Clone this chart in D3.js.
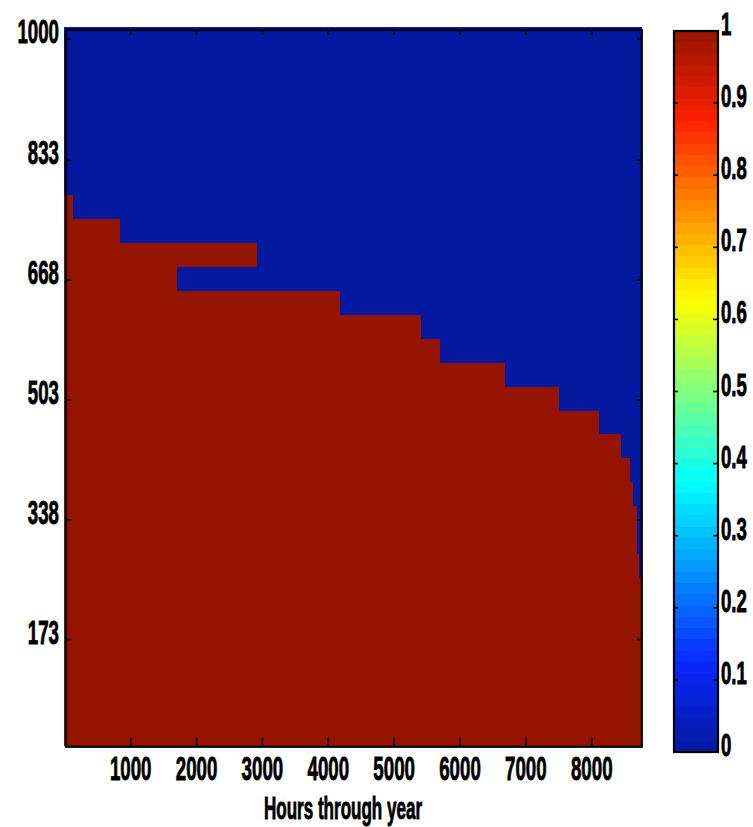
<!DOCTYPE html>
<html>
<head>
<meta charset="utf-8">
<script src="https://cdn.jsdelivr.net/npm/d3@7"></script>
<style>
  body { margin: 0; background: #fff; }
  text { font-family: "Liberation Sans", Arial, Helvetica, sans-serif; font-weight: bold; fill: #000; stroke: #000; stroke-width: 0.9px; }
</style>
</head>
<body>
<svg id="chart" width="753" height="827"></svg>
<script>
// Demand levels (row centres of the map)
const levels = [1000, 967, 934, 901, 868, 835, 802, 769, 736, 703, 670, 637, 604, 571, 538,
                505, 472, 439, 406, 373, 340, 307, 274, 241, 208, 175, 142, 109, 76, 43];

// Hour-of-year edges of the column bands
const hourEdges = [0, 130, 840, 1700, 2920, 4180, 5410, 5700, 6690, 7500, 8115, 8445, 8585, 8630, 8680, 8710, 8760];

// Highest level that is met (value 1) in each band; levels above it are 0
const topMet = [769, 736, 703, 703, 637, 604, 571, 538, 505, 472, 439, 406, 373, 340, 274, 241];

// Isolated unmet cells below the top level: band index and level
const gapBand = [3];
const gapLevel = [670];

// Axis ticks
const xTicks = [1000, 2000, 3000, 4000, 5000, 6000, 7000, 8000];
const yTicks = [173, 338, 503, 668, 833, 1000];
const cbTicks = [0, 0.1, 0.2, 0.3, 0.4, 0.5, 0.6, 0.7, 0.8, 0.9, 1];
const cbTickLabels = ["0", "0.1", "0.2", "0.3", "0.4", "0.5", "0.6", "0.7", "0.8", "0.9", "1"];
const xTitle = "Hours through year";

(function draw() {
  const svg = d3.select("#chart");

  const x = d3.scaleLinear().domain([0, 8760]).range([64.8, 641.8]);
  const y = d3.scaleLinear().domain([26.5, 1012.5]).range([746, 30]);
  const cb = d3.scaleLinear().domain([0, 1]).range([752, 31]);

  // Jet-like colour map
  const jet = d3.scaleLinear()
    .domain([0, 0.125, 0.375, 0.625, 0.875, 1])
    .range(["#0418a0", "#0a28ff", "#00ffff", "#ffff00", "#ff2000", "#941400"])
    .interpolate(d3.interpolateRgb)
    .clamp(true);

  // Build the cell table
  const half = (levels[0] - levels[1]) / 2;
  const cells = [];
  for (let b = 0; b < topMet.length; b++) {
    levels.forEach(L => {
      let v = L <= topMet[b] ? 1 : 0;
      gapBand.forEach((gb, i) => { if (gb === b && gapLevel[i] === L) v = 0; });
      cells.push({ x0: hourEdges[b], x1: hourEdges[b + 1], level: L, value: v });
    });
  }

  const map = svg.append("g").attr("shape-rendering", "crispEdges");
  map.selectAll("rect")
    .data(cells)
    .join("rect")
    .attr("x", d => Math.round(x(d.x0)) - (d.x0 === 0 ? 1 : 0))
    .attr("width", d => Math.round(x(d.x1)) - Math.round(x(d.x0)) + (d.x0 === 0 ? 1 : 0))
    .attr("y", d => Math.round(y(d.level + half)))
    .attr("height", d => Math.round(y(d.level - half)) - Math.round(y(d.level + half)))
    .attr("fill", d => jet(d.value));

  // Axes box
  const bxL = x(0) + 1.2, bxR = x(8760), bxT = y(1012.5), bxB = y(26.5) + 0.8;
  const axis = svg.append("g").attr("stroke", "#000").attr("fill", "none");
  axis.append("rect")
    .attr("x", bxL).attr("y", bxT)
    .attr("width", bxR - bxL).attr("height", bxB - bxT)
    .attr("stroke-width", 2.2);

  // x ticks (inward, bottom and top)
  xTicks.forEach(t => {
    axis.append("line").attr("x1", x(t)).attr("x2", x(t)).attr("y1", bxB).attr("y2", bxB - 9).attr("stroke-width", 1.6);
    axis.append("line").attr("x1", x(t)).attr("x2", x(t)).attr("y1", bxT).attr("y2", bxT + 5).attr("stroke-width", 1.6);
  });
  // y ticks (inward, left and right)
  yTicks.forEach(t => {
    axis.append("line").attr("x1", bxL).attr("x2", bxL + 5).attr("y1", y(t)).attr("y2", y(t)).attr("stroke-width", 1.6);
    axis.append("line").attr("x1", bxR).attr("x2", bxR - 5).attr("y1", y(t)).attr("y2", y(t)).attr("stroke-width", 1.6);
  });

  const sx = 0.55;
  // y tick labels
  svg.append("g").selectAll("text")
    .data(yTicks)
    .join("text")
    .attr("transform", d => `translate(59,${y(d) + 4}) scale(${sx},1)`)
    .attr("text-anchor", "end")
    .attr("font-size", 34)
    .text(d => d);

  // x tick labels
  svg.append("g").selectAll("text")
    .data(xTicks)
    .join("text")
    .attr("transform", d => `translate(${x(d)},780) scale(${sx},1)`)
    .attr("text-anchor", "middle")
    .attr("font-size", 34)
    .text(d => d);

  // x title
  svg.append("text")
    .attr("transform", `translate(343,819) scale(${sx},1)`)
    .attr("text-anchor", "middle")
    .attr("font-size", 31)
    .text(xTitle);

  // Colour bar
  const cbLeft = 674, cbRight = 718;
  const nBands = 64;
  const bands = d3.range(nBands).map(i => ({ lo: i / nBands, hi: (i + 1) / nBands }));
  svg.append("g").attr("shape-rendering", "crispEdges")
    .selectAll("rect")
    .data(bands)
    .join("rect")
    .attr("x", cbLeft)
    .attr("width", cbRight - cbLeft)
    .attr("y", d => Math.round(cb(d.hi)))
    .attr("height", d => Math.round(cb(d.lo)) - Math.round(cb(d.hi)))
    .attr("fill", d => jet((d.lo + d.hi) / 2));

  const cbAxis = svg.append("g").attr("stroke", "#000").attr("fill", "none");
  cbAxis.append("rect")
    .attr("x", cbLeft).attr("y", cb(1))
    .attr("width", cbRight - cbLeft).attr("height", cb(0) - cb(1))
    .attr("stroke-width", 2.2);
  cbTicks.filter(t => t > 0 && t < 1).forEach(t => {
    cbAxis.append("line").attr("x1", cbLeft).attr("x2", cbLeft + 4).attr("y1", cb(t)).attr("y2", cb(t)).attr("stroke-width", 1.6);
    cbAxis.append("line").attr("x1", cbRight).attr("x2", cbRight - 5).attr("y1", cb(t)).attr("y2", cb(t)).attr("stroke-width", 1.6);
  });

  svg.append("g").selectAll("text")
    .data(cbTicks)
    .join("text")
    .attr("transform", d => `translate(721,${cb(d) + 4}) scale(${sx + 0.05},1)`)
    .attr("text-anchor", "start")
    .attr("font-size", 31)
    .text((d, i) => cbTickLabels[i]);
})();
</script>
</body>
</html>
